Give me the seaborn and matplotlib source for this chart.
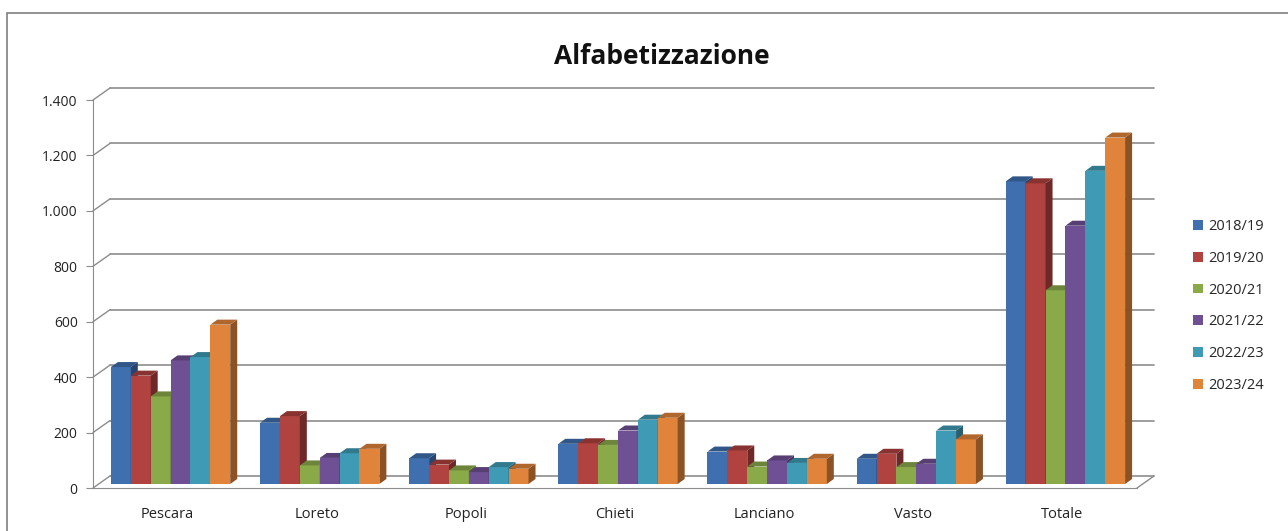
import matplotlib
matplotlib.use("Agg")
import numpy as np
import pandas as pd
import matplotlib.pyplot as plt
from matplotlib.patches import Polygon, Rectangle, Patch
from matplotlib.ticker import FuncFormatter
import seaborn as sns

# --- data -------------------------------------------------------------------
sedi = ["Pescara", "Loreto", "Popoli", "Chieti", "Lanciano", "Vasto", "Totale"]
anni = ["2018/19", "2019/20", "2020/21", "2021/22", "2022/23", "2023/24"]
v_2018_19 = [422, 221, 93, 145, 117, 91, 1092]
v_2019_20 = [391, 245, 70, 147, 121, 109, 1085]
v_2020_21 = [316, 67, 49, 141, 63, 61, 699]
v_2021_22 = [446, 94, 43, 193, 85, 73, 932]
v_2022_23 = [458, 111, 61, 232, 76, 193, 1130]
v_2023_24 = [575, 127, 55, 239, 91, 161, 1250]
colori = ["#3F6FAF", "#B0423F", "#8AAA4A", "#6F5094", "#3F9BB5", "#E0843B"]
y_ticks = [0, 200, 400, 600, 800, 1000, 1200, 1400]

valori = [v_2018_19, v_2019_20, v_2020_21, v_2021_22, v_2022_23, v_2023_24]
df = pd.DataFrame(
    [(s, a, v) for a, serie in zip(anni, valori) for s, v in zip(sedi, serie)],
    columns=["sede", "anno", "valore"],
)


def shade(c, f):
    r, g, b = matplotlib.colors.to_rgb(c)
    return (r * f, g * f, b * f)


# --- figure -------------------------------------------------------------------
sns.set_style("white")
plt.rcParams["font.family"] = ["Open Sans", "DejaVu Sans"]

W, H = 1288, 531
fig = plt.figure(figsize=(W / 100, H / 100), dpi=100)
ax = fig.add_axes([93 / W, (H - 488) / H, (1137 - 93) / W, (488 - 100) / H])

sns.barplot(data=df, x="sede", y="valore", hue="anno", order=sedi,
            hue_order=anni, palette=colori, width=0.8, saturation=1,
            linewidth=0, legend=False, ax=ax, errorbar=None)
ax.set_xlim(-0.5, len(sedi) - 0.5)
ax.set_ylim(0, 1400)

# pixel -> data conversions
px_x = (ax.transData.transform((1, 0))[0] - ax.transData.transform((0, 0))[0])
px_y = (ax.transData.transform((0, 100))[1] - ax.transData.transform((0, 0))[1]) / 100
fx, fy = 17 / px_x, 12 / px_y      # floor / back wall depth
bx, by = 3 / px_x, 4 / px_y        # bar position inside the floor
dx, dy = 7 / px_x, 5 / px_y        # bar depth

grid_c = "#8C8C8C"
x0, x1 = -0.5, len(sedi) - 0.5
for v in y_ticks:
    ax.plot([x0 + fx, x1 + fx], [v + fy, v + fy], color=grid_c, lw=1.2,
            clip_on=False, zorder=0.5)
    ax.plot([x0, x0 + fx], [v, v + fy], color=grid_c, lw=1.0,
            clip_on=False, zorder=0.5)
ax.plot([x1, x1 + fx], [0, fy], color=grid_c, lw=1.0, clip_on=False, zorder=0.5)

# fake 3D columns
bars = sorted(ax.patches, key=lambda p: p.get_x())
for i, p in enumerate(bars):
    c = p.get_facecolor()
    h = p.get_height()
    p.set_x(p.get_x() + bx)
    p.set_y(by)
    xl, xr = p.get_x(), p.get_x() + p.get_width()
    yb, yt = by, by + h
    z = 2 + i * 0.1
    p.set_zorder(z)
    ax.add_patch(Polygon([(xr, yb), (xr + dx, yb + dy), (xr + dx, yt + dy), (xr, yt)],
                         closed=True, facecolor=shade(c, 0.62), edgecolor="none",
                         zorder=z + 0.01, clip_on=False))
    ax.add_patch(Polygon([(xl, yt), (xl + dx, yt + dy), (xr + dx, yt + dy), (xr, yt)],
                         closed=True, facecolor=shade(c, 0.78), edgecolor="none",
                         zorder=z + 0.02, clip_on=False))

# axes styling
for s in ["top", "right"]:
    ax.spines[s].set_visible(False)
ax.spines["left"].set_color(grid_c)
ax.spines["bottom"].set_color(grid_c)
ax.set_yticks(y_ticks)
ax.yaxis.set_major_formatter(FuncFormatter(lambda v, _: f"{int(v):,}".replace(",", ".")))
ax.set_xticks(range(len(sedi)))
ax.set_xticklabels(sedi)
ax.set_xticks(np.arange(-0.5, len(sedi)), minor=True)
ax.tick_params(axis="x", which="major", length=0, pad=14, labelsize=10.5, colors="#222222")
ax.tick_params(axis="x", which="minor", length=6, color=grid_c, direction="out")
ax.tick_params(axis="y", length=5, color=grid_c, direction="out", left=True,
               labelsize=10, pad=6, labelcolor="#222222")
ax.set_xlabel("")
ax.set_ylabel("")

fig.text(662 / W, (H - 56) / H, "Alfabetizzazione", ha="center", va="center",
         fontsize=19, fontweight="bold", color="#111111")

handles = [Patch(facecolor=c, edgecolor="none") for c in colori]
fig.legend(handles, anni, loc="center left", bbox_to_anchor=(1180 / W, (H - 306) / H),
           frameon=False, handlelength=0.65, handleheight=0.65, handletextpad=0.4,
           labelspacing=1.15, fontsize=10.5)

fig.add_artist(Rectangle((7 / W, -0.02), 1.1, (H - 13) / H + 0.02,
                         transform=fig.transFigure, fill=False,
                         edgecolor="#7F7F7F", lw=1.2))

fig.savefig("out.png", dpi=100)
